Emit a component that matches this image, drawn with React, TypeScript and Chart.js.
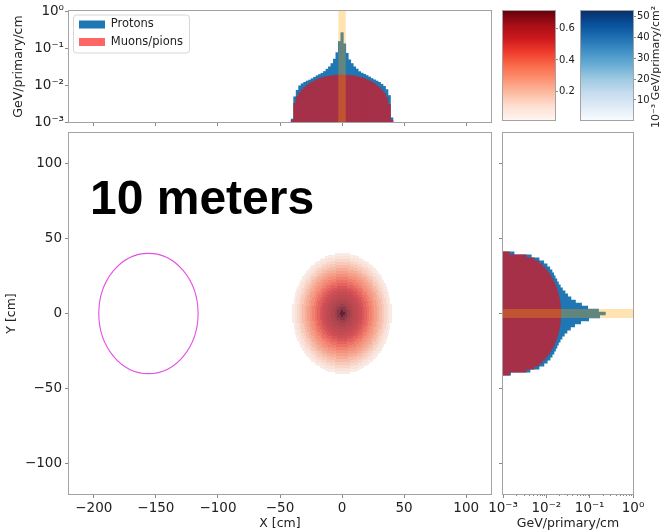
import React, { useEffect, useRef } from 'react';
import { Chart, registerables } from 'chart.js';

Chart.register(...registerables);

const W = 664;
const H = 530;
const FONT = 'DejaVu Sans';

// ---------- 1D histograms (bin centres in cm, 2 cm bins) ----------
const binCenters = [-40, -38, -36, -34, -32, -30, -28, -26, -24, -22, -20, -18, -16, -14, -12, -10, -8, -6, -4, -2, 0, 2, 4, 6, 8, 10, 12, 14, 16, 18, 20, 22, 24, 26, 28, 30, 32, 34, 36, 38, 40];

// X projection (top panel), GeV/primary/cm
const protonsX = [0.0012, 0.0048, 0.0072, 0.0095, 0.0108, 0.0118, 0.0128, 0.0136, 0.0148, 0.0162, 0.0178, 0.0192, 0.0208, 0.0232, 0.0268, 0.031, 0.038, 0.05, 0.075, 0.15, 0.26, 0.13, 0.072, 0.048, 0.038, 0.031, 0.027, 0.023, 0.021, 0.0195, 0.018, 0.0165, 0.015, 0.0138, 0.0128, 0.0118, 0.0105, 0.0092, 0.0075, 0.0052, 0.0013];
const muonsX = [0.0011, 0.0032, 0.0048, 0.0062, 0.0074, 0.0086, 0.0098, 0.0109, 0.012, 0.013, 0.014, 0.0149, 0.0157, 0.0164, 0.017, 0.0175, 0.0179, 0.0182, 0.0184, 0.0186, 0.0187, 0.0186, 0.0184, 0.0182, 0.0179, 0.0175, 0.017, 0.0164, 0.0157, 0.0149, 0.014, 0.013, 0.012, 0.0109, 0.0097, 0.0085, 0.0073, 0.006, 0.0046, 0.003, 0.0011];

// Y projection (right panel), GeV/primary/cm
const protonsY = [0.0015, 0.0042, 0.0068, 0.0088, 0.0105, 0.0122, 0.0136, 0.015, 0.0163, 0.0176, 0.019, 0.0208, 0.023, 0.026, 0.03, 0.036, 0.045, 0.062, 0.095, 0.17, 0.23, 0.16, 0.09, 0.065, 0.047, 0.037, 0.031, 0.027, 0.0235, 0.021, 0.019, 0.0175, 0.016, 0.0148, 0.0135, 0.012, 0.0104, 0.0087, 0.0068, 0.0045, 0.0018];
const muonsY = [0.0014, 0.0034, 0.0052, 0.0067, 0.008, 0.0093, 0.0106, 0.0119, 0.0131, 0.0143, 0.0155, 0.0166, 0.0176, 0.0185, 0.0193, 0.02, 0.0206, 0.021, 0.0213, 0.0215, 0.0216, 0.0215, 0.0213, 0.021, 0.0206, 0.02, 0.0193, 0.0185, 0.0176, 0.0166, 0.0155, 0.0143, 0.0131, 0.0119, 0.0106, 0.0093, 0.008, 0.0067, 0.0052, 0.0034, 0.0014];

// primary beam band
const beamPos = [0];
const beamValue = [1];

// ---------- 2D map: radial profiles in 2 cm rings ----------
const cellSizeCm = 1;
const cellCount = 80;
const cellStart = -40;
const radialBinWidth = 2;
const muonRadial = [0.69, 0.67, 0.65, 0.63, 0.61, 0.59, 0.57, 0.54, 0.51, 0.47, 0.43, 0.39, 0.35, 0.31, 0.27, 0.23, 0.19, 0.15, 0.115, 0.08];
const protonRadial = [45, 24, 16, 13, 12, 11, 10.5, 10, 9.5, 9, 8.5, 8, 7.5, 7, 6.5, 6, 5.5, 5, 4.5, 4];

// detector outline
const detectorX = -156;
const detectorY = 0;
const detectorR = 40;

// ---------- ticks ----------
const xTicks = [-200, -150, -100, -50, 0, 50, 100];
const xTickLabels = ['−200', '−150', '−100', '−50', '0', '50', '100'];
const yTicks = [-100, -50, 0, 50, 100];
const yTickLabels = ['−100', '−50', '0', '50', '100'];
const logTicks = [0.001, 0.01, 0.1, 1];
const logTickLabels = ['10⁻³', '10⁻²', '10⁻¹', '10⁰'];
const logMinorTicks = [0.002, 0.003, 0.004, 0.005, 0.006, 0.007, 0.008, 0.009, 0.02, 0.03, 0.04, 0.05, 0.06, 0.07, 0.08, 0.09, 0.2, 0.3, 0.4, 0.5, 0.6, 0.7, 0.8, 0.9];
const redBarTicks = [0.2, 0.4, 0.6];
const redBarTickLabels = ['0.2', '0.4', '0.6'];
const blueBarTicks = [10, 20, 30, 40, 50];
const blueBarTickLabels = ['10', '20', '30', '40', '50'];
const redRange = [0.02, 0.71];
const blueRange = [0.4, 52.7];

// ---------- colours ----------
const PROTON_BLUE = '#1f77b4';
const MUON_RED = 'rgba(255,0,0,0.6)';
const MUON_ON_BLUE = '#a53048'; // MUON_RED composited over PROTON_BLUE
const BEAM_ORANGE = 'rgba(255,165,0,0.3)';

const redsStops = ['#fff5f0', '#fee0d2', '#fcbba1', '#fc9272', '#fb6a4a', '#ef3b2c', '#cb181d', '#a50f15', '#67000d'];
const bluesStops = ['#f7fbff', '#deebf7', '#c6dbef', '#9ecae1', '#6baed6', '#4292c6', '#2171b5', '#08519c', '#08306b'];

function hex(h: string) {
  return [parseInt(h.slice(1, 3), 16), parseInt(h.slice(3, 5), 16), parseInt(h.slice(5, 7), 16)];
}
function cmap(stops: string[], t: number) {
  const tt = Math.max(0, Math.min(1, t)) * (stops.length - 1);
  const i = Math.min(stops.length - 2, Math.floor(tt));
  const f = tt - i;
  const a = hex(stops[i]);
  const b = hex(stops[i + 1]);
  return [a[0] + (b[0] - a[0]) * f, a[1] + (b[1] - a[1]) * f, a[2] + (b[2] - a[2]) * f];
}
function rgb(c: number[]) {
  return `rgb(${Math.round(c[0])},${Math.round(c[1])},${Math.round(c[2])})`;
}
function cellColor(mu: number, pr: number) {
  const aR = 0.95;
  const aB = 0.22;
  const r = cmap(redsStops, (mu - redRange[0]) / (redRange[1] - redRange[0]));
  const c1 = r.map((v) => v * aR + 255 * (1 - aR));
  const b = cmap(bluesStops, (pr - blueRange[0]) / (blueRange[1] - blueRange[0]));
  return rgb(c1.map((v, k) => b[k] * aB + v * (1 - aB)));
}

// ---------- shared styling ----------
const TEXT = '#222';
const FRAME = '#a3a3a3';
const TICKC = '#8a8a8a';
const tickFont = { family: FONT, size: 13.5 };
const labelFont = { family: FONT, size: 12.5 };
const cbarFont = { family: FONT, size: 10 };

const fixW = (w: number) => (s: any) => { s.width = w; };
const fixH = (h: number) => (s: any) => { s.height = h; };
const setTicks = (vals: number[]) => (s: any) => { s.ticks = vals.map((v) => ({ value: v })); };
const gridStyle = { display: true, offset: false, drawOnChartArea: false, drawTicks: true, tickLength: 4, tickColor: TICKC, tickWidth: 1 };

const framePlugin = {
  id: 'frame',
  afterDraw(chart: any) {
    const { ctx, chartArea: a } = chart;
    ctx.save();
    ctx.strokeStyle = FRAME;
    ctx.lineWidth = 1;
    ctx.strokeRect(a.left - 0.5, a.top - 0.5, a.right - a.left + 1, a.bottom - a.top + 1);
    ctx.restore();
  },
};

const legendShiftPlugin = {
  id: 'legendShift',
  afterLayout(chart: any) {
    const lg = chart.legend;
    const a = chart.chartArea;
    if (!lg) return;
    lg.left = a.left + 4;
    lg.top = a.top + 1.75;
    lg.right = a.right;
    lg.bottom = a.bottom;
  },
  beforeDraw(chart: any) {
    const lg = chart.legend;
    if (!lg) return;
    const { ctx } = chart;
    const pad = 6;
    const colW = lg.columnSizes && lg.columnSizes[0] ? lg.columnSizes[0].width : 104;
    ctx.save();
    ctx.beginPath();
    ctx.roundRect(lg.left + 0.5, lg.top + 2.25, colW + 2 * pad, 38, 3);
    ctx.fillStyle = 'rgba(255,255,255,0.8)';
    ctx.fill();
    ctx.strokeStyle = '#d6d6d6';
    ctx.lineWidth = 1;
    ctx.stroke();
    ctx.restore();
  },
};

const minorTickPlugin = {
  id: 'minorTicks',
  afterDraw(chart: any) {
    const { ctx, chartArea: a, scales } = chart;
    ctx.save();
    ctx.strokeStyle = TICKC;
    ctx.lineWidth = 1;
    logMinorTicks.forEach((v) => {
      const px = Math.round(scales.x.getPixelForValue(v)) + 0.5;
      ctx.beginPath();
      ctx.moveTo(px, a.bottom);
      ctx.lineTo(px, a.bottom + 2);
      ctx.stroke();
    });
    ctx.restore();
  },
};

const heatPlugin = {
  id: 'heat',
  beforeDatasetsDraw(chart: any) {
    const { ctx, chartArea: a, scales } = chart;
    const x = scales.x;
    const y = scales.y;
    ctx.save();
    ctx.beginPath();
    ctx.rect(a.left, a.top, a.right - a.left, a.bottom - a.top);
    ctx.clip();
    for (let i = 0; i < cellCount; i++) {
      for (let j = 0; j < cellCount; j++) {
        const x0 = cellStart + i * cellSizeCm;
        const x1 = x0 + cellSizeCm;
        const y0 = cellStart + j * cellSizeCm;
        const y1 = y0 + cellSizeCm;
        const r = Math.hypot((x0 + x1) / 2, (y0 + y1) / 2);
        const k = Math.floor(r / radialBinWidth);
        if (k >= muonRadial.length) continue;
        const px0 = Math.round(x.getPixelForValue(x0));
        const px1 = Math.round(x.getPixelForValue(x1));
        const py0 = Math.round(y.getPixelForValue(y1));
        const py1 = Math.round(y.getPixelForValue(y0));
        ctx.fillStyle = cellColor(muonRadial[k], protonRadial[k]);
        ctx.fillRect(px0, py0, px1 - px0, py1 - py0);
      }
    }
    // detector outline
    const cx = x.getPixelForValue(detectorX);
    const cy = y.getPixelForValue(detectorY);
    const rx = Math.abs(x.getPixelForValue(detectorX + detectorR) - cx);
    const ry = Math.abs(y.getPixelForValue(detectorY + detectorR) - cy);
    ctx.beginPath();
    ctx.ellipse(cx, cy, rx, ry, 0, 0, Math.PI * 2);
    ctx.strokeStyle = 'rgb(228,80,228)';
    ctx.lineWidth = 1.1;
    ctx.stroke();
    ctx.restore();
  },
  afterDraw(chart: any) {
    const { ctx, chartArea: a } = chart;
    ctx.save();
    ctx.font = 'bold 48px "Liberation Sans", Arial, sans-serif';
    ctx.fillStyle = '#000';
    ctx.textBaseline = 'alphabetic';
    ctx.fillText('10 meters', a.left + 21, a.top + 81);
    ctx.restore();
  },
};

function colorbarPlugin(stops: string[], range: number[]) {
  return {
    id: 'cbar',
    beforeDatasetsDraw(chart: any) {
      const { ctx, chartArea: a, scales } = chart;
      const y = scales.y;
      for (let py = Math.floor(a.top); py < Math.ceil(a.bottom); py++) {
        const v = y.getValueForPixel(py + 0.5);
        ctx.fillStyle = rgb(cmap(stops, (v - range[0]) / (range[1] - range[0])));
        ctx.fillRect(a.left, py, a.right - a.left, 1);
      }
    },
  };
}

const blueLabelPlugin = {
  id: 'blueLabel',
  afterDraw(chart: any) {
    const { ctx } = chart;
    ctx.save();
    ctx.translate(656, 67);
    ctx.rotate(-Math.PI / 2);
    ctx.font = `11px "${FONT}"`;
    ctx.fillStyle = TEXT;
    ctx.textAlign = 'center';
    ctx.textBaseline = 'middle';
    ctx.fillText('10⁻³ GeV/primary/cm²', 0, 0);
    ctx.restore();
  },
};

const base = { animation: false as const, responsive: false, events: [] as any[] };
const noPlugins = { legend: { display: false }, tooltip: { enabled: false } };

function histDatasets(indexKey: 'x' | 'y', protons: number[], muons: number[]) {
  const valueKey = indexKey === 'x' ? 'y' : 'x';
  const pts = (pos: number[], vals: number[]) => pos.map((p, i) => ({ [indexKey]: p, [valueKey]: vals[i] }));
  return [
    { label: 'Protons', data: pts(binCenters, protons), backgroundColor: PROTON_BLUE, legendColor: PROTON_BLUE, order: 2 },
    { label: 'Muons/pions', data: pts(binCenters, muons), backgroundColor: MUON_ON_BLUE, legendColor: MUON_RED, order: 1 },
    { label: 'Beam', data: pts(beamPos, beamValue), backgroundColor: BEAM_ORANGE, order: 0, barPercentage: 3, inflateAmount: 0 },
  ];
}

function topConfig(): any {
  return {
    type: 'bar',
    data: { datasets: histDatasets('x', protonsX, muonsX) },
    options: {
      ...base,
      layout: { padding: { left: 0, top: 11, right: W - 491, bottom: 0 } },
      datasets: { bar: { grouped: false, barPercentage: 1, categoryPercentage: 1, borderWidth: 0 } },
      scales: {
        x: {
          type: 'linear', offset: false, min: -220, max: 120, afterBuildTicks: setTicks(xTicks), afterFit: fixH(H - 122),
          grid: gridStyle, border: { display: false }, ticks: { display: false },
        },
        y: {
          type: 'logarithmic', min: 0.001, max: 1, afterBuildTicks: setTicks(logTicks), afterFit: fixW(69),
          grid: gridStyle, border: { display: false },
          ticks: { font: tickFont, color: TEXT, padding: 1, callback: (_v: any, i: number) => logTickLabels[i] },
          title: { display: true, text: 'GeV/primary/cm', font: labelFont, color: TEXT, padding: { top: 11.5, bottom: 0 } },
        },
      },
      plugins: {
        tooltip: { enabled: false },
        legend: {
          position: 'chartArea', align: 'start',
          labels: {
            generateLabels: (chart: any) =>
              (Chart.defaults.plugins.legend.labels as any).generateLabels(chart).map((it: any) => ({
                ...it,
                fillStyle: chart.data.datasets[it.datasetIndex].legendColor || it.fillStyle,
              })),
            filter: (it: any) => it.datasetIndex !== 2,
            sort: (a: any, b: any) => a.datasetIndex - b.datasetIndex,
            boxWidth: 26, boxHeight: 8, padding: 6, color: TEXT,
            font: { family: FONT, size: 11.5 },
          },
        },
      },
    },
    plugins: [legendShiftPlugin, framePlugin],
  };
}

function mainConfig(): any {
  return {
    type: 'scatter',
    data: { datasets: [] },
    options: {
      ...base,
      layout: { padding: { left: 0, top: 133, right: W - 491, bottom: 0 } },
      scales: {
        x: {
          type: 'linear', min: -220, max: 120, afterBuildTicks: setTicks(xTicks), afterFit: fixH(H - 494),
          grid: gridStyle, border: { display: false },
          ticks: { font: tickFont, color: TEXT, padding: 2, maxRotation: 0, callback: (_v: any, i: number) => xTickLabels[i] },
          title: { display: true, text: 'X [cm]', font: labelFont, color: TEXT, padding: { top: 0, bottom: -1 } },
        },
        y: {
          type: 'linear', min: -120, max: 120, afterBuildTicks: setTicks(yTicks), afterFit: fixW(69),
          grid: gridStyle, border: { display: false },
          ticks: { font: tickFont, color: TEXT, padding: 3, callback: (_v: any, i: number) => yTickLabels[i] },
          title: { display: true, text: 'Y [cm]', font: labelFont, color: TEXT, padding: { top: 4.5, bottom: 0 } },
        },
      },
      plugins: noPlugins,
    },
    plugins: [heatPlugin, framePlugin],
  };
}

function rightConfig(): any {
  return {
    type: 'bar',
    data: { datasets: histDatasets('y', protonsY, muonsY) },
    options: {
      ...base,
      indexAxis: 'y',
      layout: { padding: { left: 0, top: 133, right: W - 633, bottom: 0 } },
      datasets: { bar: { grouped: false, barPercentage: 1, categoryPercentage: 1, borderWidth: 0 } },
      scales: {
        x: {
          type: 'logarithmic', offset: false, min: 0.001, max: 1, afterBuildTicks: setTicks(logTicks), afterFit: fixH(H - 494),
          grid: gridStyle, border: { display: false },
          ticks: { font: tickFont, color: TEXT, padding: 2, maxRotation: 0, callback: (_v: any, i: number) => logTickLabels[i] },
          title: { display: true, text: 'GeV/primary/cm', font: labelFont, color: TEXT, padding: { top: 0, bottom: -1 } },
        },
        y: {
          type: 'linear', offset: false, min: -120, max: 120, afterBuildTicks: setTicks(yTicks), afterFit: fixW(503),
          grid: gridStyle, border: { display: false }, ticks: { display: false },
        },
      },
      plugins: noPlugins,
    },
    plugins: [minorTickPlugin, framePlugin],
  };
}

function cbarConfig(left: number, right: number, range: number[], ticks: number[], labels: string[], stops: string[], extra: any[]): any {
  return {
    type: 'scatter',
    data: { datasets: [] },
    options: {
      ...base,
      layout: { padding: { left, top: 11, right: 0, bottom: H - 120 } },
      scales: {
        x: { display: false },
        y: {
          type: 'linear', position: 'right', min: range[0], max: range[1], afterBuildTicks: setTicks(ticks), afterFit: fixW(W - right),
          grid: { ...gridStyle, tickLength: 3 }, border: { display: false },
          ticks: { font: cbarFont, color: TEXT, padding: 1, callback: (_v: any, i: number) => labels[i] },
        },
      },
      plugins: noPlugins,
    },
    plugins: [colorbarPlugin(stops, range), framePlugin, ...extra],
  };
}

export default function App() {
  const r0 = useRef<HTMLCanvasElement>(null);
  const r1 = useRef<HTMLCanvasElement>(null);
  const r2 = useRef<HTMLCanvasElement>(null);
  const r3 = useRef<HTMLCanvasElement>(null);
  const r4 = useRef<HTMLCanvasElement>(null);
  const refs = [r0, r1, r2, r3, r4];

  useEffect(() => {
    const configs = [
      topConfig(),
      mainConfig(),
      rightConfig(),
      cbarConfig(503, 555, redRange, redBarTicks, redBarTickLabels, redsStops, []),
      cbarConfig(581, 633, blueRange, blueBarTicks, blueBarTickLabels, bluesStops, [blueLabelPlugin]),
    ];
    const charts = configs.map((cfg, i) => new Chart(refs[i].current as HTMLCanvasElement, cfg));
    return () => charts.forEach((c) => c.destroy());
  }, []);

  return (
    <div style={{ position: 'fixed', left: 0, top: 0, width: W, height: H, background: '#fff', overflow: 'hidden' }}>
      {refs.map((r, i) => (
        <canvas key={i} ref={r} width={W} height={H} style={{ position: 'absolute', left: 0, top: 0, width: W, height: H }} />
      ))}
    </div>
  );
}
